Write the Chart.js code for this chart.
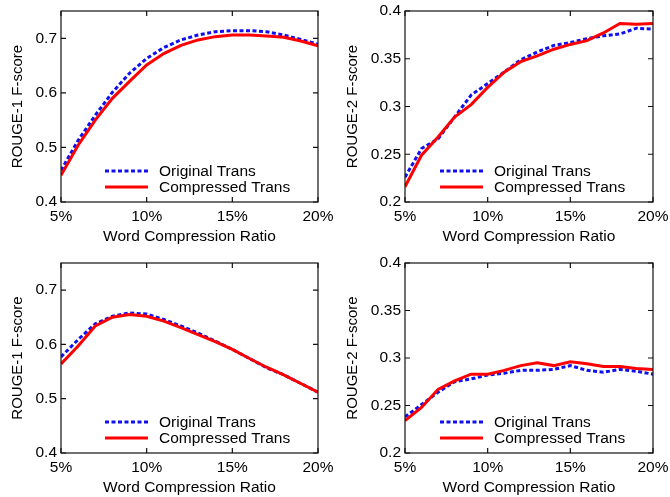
<!DOCTYPE html>
<html>
<head>
<meta charset="utf-8">
<script src="https://cdn.jsdelivr.net/npm/chart.js@4.4.1/dist/chart.umd.min.js"></script>
<style>
  html, body { margin: 0; padding: 0; background: #fff; }
  #wrap { position: relative; width: 670px; height: 497px; }
  canvas { position: absolute; }
</style>
</head>
<body>
<div id="wrap">
  <canvas id="c1" width="335" height="248" style="left:0;top:0"></canvas>
  <canvas id="c2" width="335" height="248" style="left:335px;top:0"></canvas>
  <canvas id="c3" width="335" height="247" style="left:0;top:250px"></canvas>
  <canvas id="c4" width="335" height="247" style="left:335px;top:250px"></canvas>
</div>
<script>
// word compression ratio (%)
const ratios = [5, 6, 7, 8, 9, 10, 11, 12, 13, 14, 15, 16, 17, 18, 19, 20];
const ratioTicks = [5, 10, 15, 20];
const rouge1Ticks = [0.4, 0.5, 0.6, 0.7];
const rouge2Ticks = [0.2, 0.25, 0.3, 0.35, 0.4];
const seriesNames = ['Original Trans', 'Compressed Trans'];

// top row
const r1TopOrig = [0.458, 0.513, 0.559, 0.601, 0.636, 0.663, 0.683, 0.697, 0.706, 0.712, 0.714, 0.714, 0.712, 0.706, 0.698, 0.689];
const r1TopComp = [0.449, 0.504, 0.550, 0.590, 0.621, 0.651, 0.672, 0.687, 0.697, 0.703, 0.706, 0.706, 0.704, 0.702, 0.695, 0.686];
const r2TopOrig = [0.226, 0.256, 0.266, 0.289, 0.312, 0.324, 0.336, 0.349, 0.357, 0.364, 0.367, 0.371, 0.374, 0.376, 0.382, 0.381];
const r2TopComp = [0.216, 0.249, 0.268, 0.289, 0.302, 0.320, 0.336, 0.347, 0.353, 0.360, 0.365, 0.369, 0.377, 0.387, 0.386, 0.387];

// bottom row
const r1BotOrig = [0.577, 0.609, 0.638, 0.652, 0.658, 0.656, 0.646, 0.634, 0.621, 0.606, 0.591, 0.574, 0.557, 0.544, 0.528, 0.512];
const r1BotComp = [0.564, 0.597, 0.634, 0.650, 0.655, 0.652, 0.643, 0.631, 0.618, 0.605, 0.591, 0.574, 0.558, 0.544, 0.528, 0.512];
const r2BotOrig = [0.238, 0.251, 0.264, 0.275, 0.278, 0.282, 0.284, 0.287, 0.287, 0.288, 0.292, 0.287, 0.285, 0.288, 0.286, 0.283];
const r2BotComp = [0.234, 0.248, 0.267, 0.276, 0.283, 0.283, 0.287, 0.292, 0.295, 0.292, 0.296, 0.294, 0.291, 0.291, 0.289, 0.288];

Chart.defaults.font.family = '"Liberation Sans", Arial, sans-serif';
Chart.defaults.color = '#000';

const BLUE = '#1010ee';
const RED = '#ff0000';

// box around the plot with ticks pointing inwards on all four sides
const framePlugin = {
  id: 'frame',
  afterDatasetsDraw(chart) {
    const { ctx, chartArea: a, scales: { x, y } } = chart;
    const len = 5;
    ctx.save();
    ctx.strokeStyle = '#111';
    ctx.lineWidth = 1.2;
    ctx.beginPath();
    x.ticks.forEach((t) => {
      const px = x.getPixelForValue(t.value);
      ctx.moveTo(px, a.bottom); ctx.lineTo(px, a.bottom - len);
      ctx.moveTo(px, a.top); ctx.lineTo(px, a.top + len);
    });
    y.ticks.forEach((t) => {
      const py = y.getPixelForValue(t.value);
      ctx.moveTo(a.left, py); ctx.lineTo(a.left + len, py);
      ctx.moveTo(a.right, py); ctx.lineTo(a.right - len, py);
    });
    ctx.stroke();
    ctx.strokeRect(a.left, a.top, a.right - a.left, a.bottom - a.top);
    ctx.restore();
  },
};

// legend sits inside the plot, lower left
const legendPlugin = {
  id: 'innerLegend',
  afterDraw(chart) {
    const { ctx, chartArea: a } = chart;
    const rows = [a.bottom - 31, a.bottom - 15];
    ctx.save();
    ctx.font = '15.5px "Liberation Sans", Arial, sans-serif';
    ctx.textBaseline = 'middle';
    ctx.fillStyle = '#000';
    chart.data.datasets.forEach((ds, i) => {
      const yy = rows[i];
      ctx.strokeStyle = ds.borderColor;
      ctx.lineWidth = ds.borderWidth;
      ctx.setLineDash(ds.borderDash || []);
      ctx.beginPath();
      ctx.moveTo(105, yy);
      ctx.lineTo(148, yy);
      ctx.stroke();
      ctx.setLineDash([]);
      ctx.fillText(ds.label, 159, yy + 1);
    });
    ctx.restore();
  },
};

function tickFmt(v) {
  return String(+v.toFixed(2));
}

function makePanel(p) {
  const canvas = document.getElementById(p.id);
  const W = canvas.width;
  const H = canvas.height;
  const toPoints = (vals) => ratios.map((r, i) => ({ x: r, y: vals[i] }));

  new Chart(canvas.getContext('2d'), {
    type: 'line',
    data: {
      datasets: [
        {
          label: seriesNames[0],
          data: toPoints(p.orig),
          borderColor: BLUE,
          borderWidth: 3,
          borderDash: [4, 2.5],
          pointRadius: 0,
          tension: 0,
          order: 2,
        },
        {
          label: seriesNames[1],
          data: toPoints(p.comp),
          borderColor: RED,
          borderWidth: 3,
          pointRadius: 0,
          tension: 0,
          order: 1,
        },
      ],
    },
    options: {
      responsive: false,
      animation: false,
      layout: { padding: { left: 0, top: p.area.top, right: W - p.area.right, bottom: 0 } },
      plugins: { legend: { display: false }, tooltip: { enabled: false } },
      scales: {
        x: {
          type: 'linear',
          min: 5,
          max: 20,
          grid: { display: false, drawTicks: false },
          border: { display: false },
          afterBuildTicks: (s) => { s.ticks = ratioTicks.map((v) => ({ value: v })); },
          afterFit: (s) => { s.height = H - p.area.bottom; s.paddingLeft = 0; s.paddingRight = 0; },
          ticks: {
            padding: 5,
            maxRotation: 0,
            autoSkip: false,
            font: { size: 15.5 },
            callback: (v) => v + '%',
          },
          title: {
            display: true,
            text: 'Word Compression Ratio',
            font: { size: 15.5 },
            padding: { top: 0, bottom: Math.max(0, H - p.xTitleY - 9.3) },
          },
        },
        y: {
          min: p.yMin,
          max: p.yMax,
          grid: { display: false, drawTicks: false },
          border: { display: false },
          afterBuildTicks: (s) => { s.ticks = p.yTicks.map((v) => ({ value: v })); },
          afterFit: (s) => { s.width = p.area.left; s.paddingTop = 0; s.paddingBottom = 0; },
          ticks: { padding: 4, font: { size: 15.5 }, callback: tickFmt },
          title: {
            display: true,
            text: p.yTitle,
            font: { size: 15 },
            padding: { top: 9, bottom: 0 },
          },
        },
      },
    },
    plugins: [framePlugin, legendPlugin],
  });
}

const panels = [
  { id: 'c1', yTitle: 'ROUGE-1 F-score', yMin: 0.4, yMax: 0.75, yTicks: rouge1Ticks, orig: r1TopOrig, comp: r1TopComp, area: { left: 61, right: 318, top: 11, bottom: 202 }, xTitleY: 237 },
  { id: 'c2', yTitle: 'ROUGE-2 F-score', yMin: 0.2, yMax: 0.4, yTicks: rouge2Ticks, orig: r2TopOrig, comp: r2TopComp, area: { left: 70, right: 318, top: 11, bottom: 202 }, xTitleY: 237 },
  { id: 'c3', yTitle: 'ROUGE-1 F-score', yMin: 0.4, yMax: 0.75, yTicks: rouge1Ticks, orig: r1BotOrig, comp: r1BotComp, area: { left: 61, right: 318, top: 13, bottom: 203 }, xTitleY: 238 },
  { id: 'c4', yTitle: 'ROUGE-2 F-score', yMin: 0.2, yMax: 0.4, yTicks: rouge2Ticks, orig: r2BotOrig, comp: r2BotComp, area: { left: 70, right: 318, top: 13, bottom: 203 }, xTitleY: 238 },
];

panels.forEach(makePanel);
</script>
</body>
</html>
